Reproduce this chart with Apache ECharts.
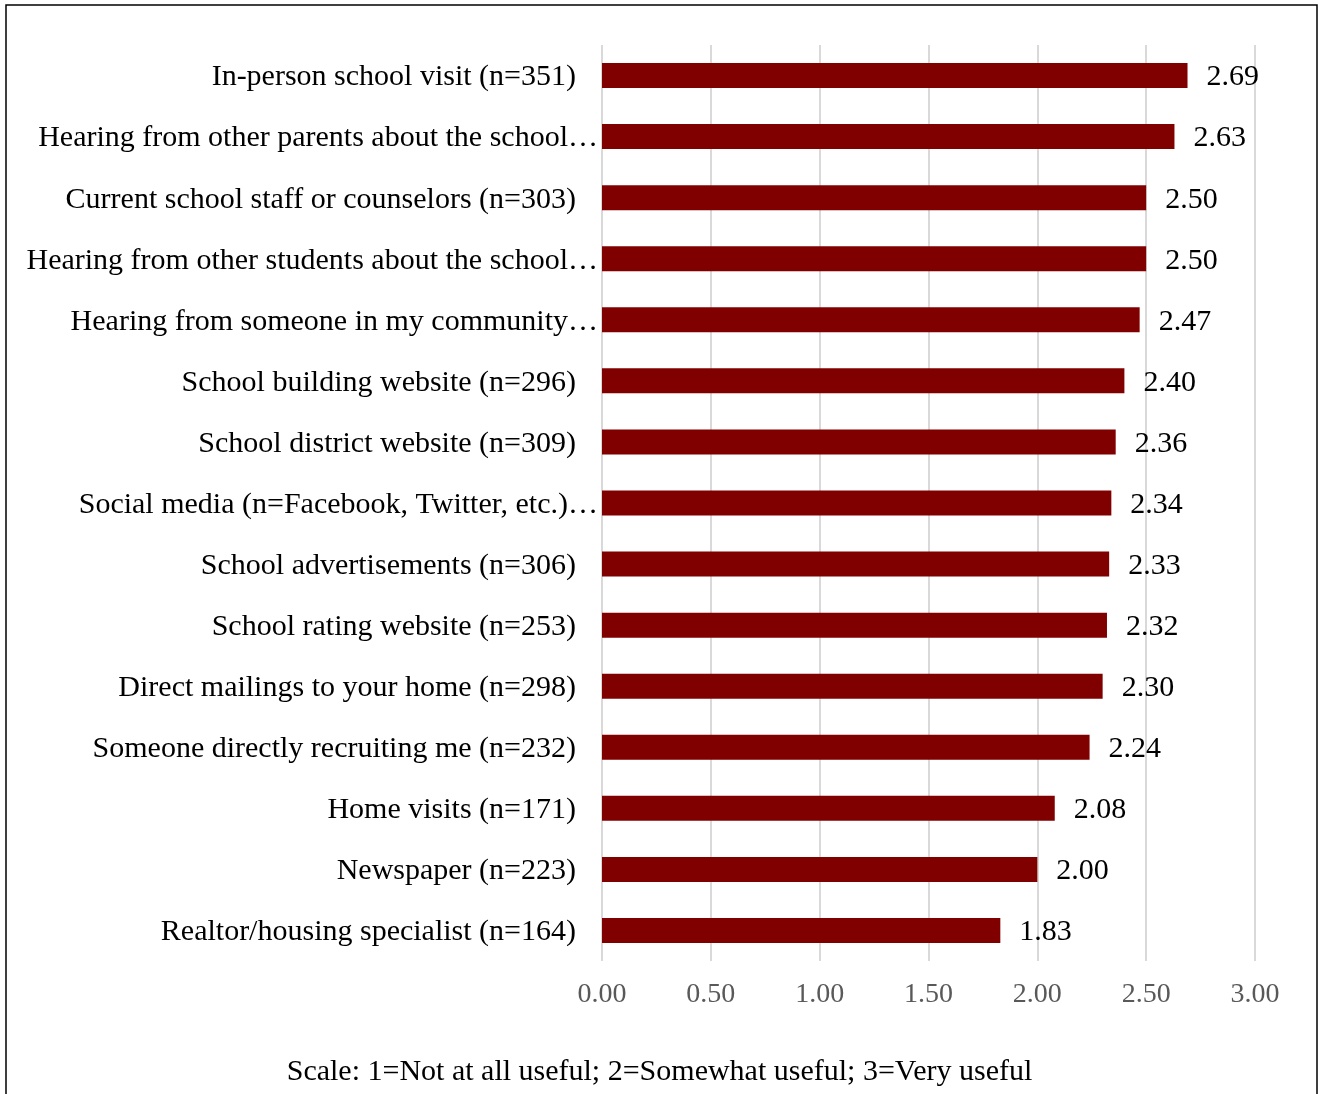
<!DOCTYPE html>
<html>
<head>
<meta charset="utf-8">
<title>Usefulness of school information sources</title>
<script src="https://cdn.jsdelivr.net/npm/echarts@6/dist/echarts.min.js"></script>
<style>
  html, body { margin: 0; padding: 0; background: #ffffff; }
  #chart { width: 1319px; height: 1094px; }
</style>
</head>
<body>
<div id="chart"></div>
<script>
// Information sources, top to bottom
const categories = [
  'In-person school visit (n=351)',
  'Hearing from other parents about the school\u2026',
  'Current school staff or counselors (n=303)',
  'Hearing from other students about the school\u2026',
  'Hearing from someone in my community\u2026',
  'School building website (n=296)',
  'School district website (n=309)',
  'Social media (n=Facebook, Twitter, etc.)\u2026',
  'School advertisements (n=306)',
  'School rating website (n=253)',
  'Direct mailings to your home (n=298)',
  'Someone directly recruiting me (n=232)',
  'Home visits (n=171)',
  'Newspaper (n=223)',
  'Realtor/housing specialist (n=164)'
];

// Mean usefulness rating per source
const meanRatings = [2.69, 2.63, 2.50, 2.50, 2.47, 2.40, 2.36, 2.34, 2.33, 2.32, 2.30, 2.24, 2.08, 2.00, 1.83];

// Value axis ticks
const axisMin = 0;
const axisMax = 3;
const axisStep = 0.5;

const footnote = 'Scale: 1=Not at all useful; 2=Somewhat useful; 3=Very useful';

const FONT = '"Liberation Serif", "Times New Roman", serif';
const TEXT_SIZE = 30;

const chart = echarts.init(document.getElementById('chart'), null, { renderer: 'canvas' });

chart.setOption({
  backgroundColor: '#ffffff',
  animation: false,
  graphic: [
    {
      type: 'rect',
      shape: { x: 6, y: 5, width: 1311, height: 1100 },
      style: { fill: 'none', stroke: '#000000', lineWidth: 1.5 },
      silent: true
    },
    {
      type: 'text',
      left: 'center',
      top: 1057,
      style: { text: footnote, font: TEXT_SIZE + 'px ' + FONT, fill: '#000000' }
    }
  ],
  grid: { left: 602, top: 45, width: 653, height: 916, containLabel: false },
  xAxis: {
    type: 'value',
    min: axisMin,
    max: axisMax,
    interval: axisStep,
    axisLine: { show: false },
    axisTick: { show: false },
    splitLine: { show: true, lineStyle: { color: '#d9d9d9', width: 2 } },
    axisLabel: {
      margin: 20,
      color: '#595959',
      fontFamily: FONT,
      fontSize: 28,
      formatter: v => v.toFixed(2)
    }
  },
  yAxis: {
    type: 'category',
    inverse: true,
    data: categories,
    axisLine: { show: false },
    axisTick: { show: false },
    axisLabel: {
      margin: 4,
      color: '#000000',
      fontFamily: FONT,
      fontSize: TEXT_SIZE,
      formatter: v => v.endsWith('\u2026') ? '{c|' + v + '}' : '{n|' + v + '}',
      rich: {
        n: { fontFamily: FONT, fontSize: TEXT_SIZE, color: '#000000', padding: [4, 22, 0, 0] },
        c: { fontFamily: FONT, fontSize: TEXT_SIZE, color: '#000000', padding: [4, 0, 0, 0] }
      }
    }
  },
  series: [{
    type: 'bar',
    data: meanRatings,
    barWidth: 25,
    itemStyle: { color: '#800000' },
    label: {
      show: true,
      position: 'right',
      distance: 19,
      offset: [0, 2],
      color: '#000000',
      fontFamily: FONT,
      fontSize: TEXT_SIZE,
      formatter: p => p.value.toFixed(2)
    }
  }]
});
</script>
</body>
</html>
